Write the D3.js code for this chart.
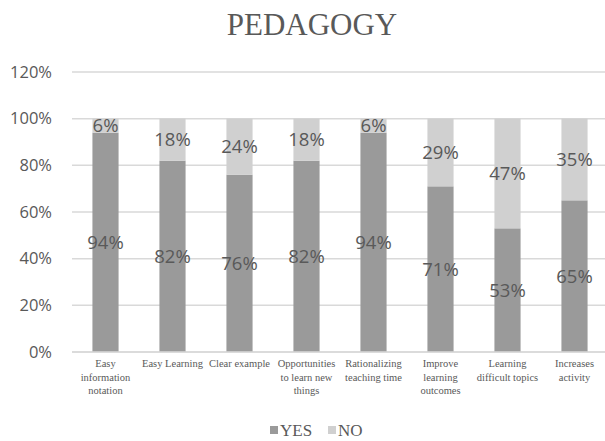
<!doctype html>
<html>
<head>
<meta charset="utf-8">
<script src="https://d3js.org/d3.v7.min.js"></script>
<style>
  body { margin: 0; background: #fff; }
</style>
</head>
<body>
<div id="chart"></div>
<script>
  var categories = ["Easy information notation", "Easy Learning", "Clear example",
    "Opportunities to learn new things", "Rationalizing teaching time",
    "Improve learning outcomes", "Learning difficult topics", "Increases activity"];
  var labelLines = [["Easy", "information", "notation"], ["Easy Learning"], ["Clear example"],
    ["Opportunities", "to learn new", "things"], ["Rationalizing", "teaching time"],
    ["Improve", "learning", "outcomes"], ["Learning", "difficult topics"], ["Increases", "activity"]];
  var yes = [94, 82, 76, 82, 94, 71, 53, 65];
  var no = [6, 18, 24, 18, 6, 29, 47, 35];
  var yTicks = [0, 20, 40, 60, 80, 100, 120];
  var seriesNames = ["YES", "NO"];
  var colors = ["#9a9a9a", "#d0d0d0"];

  var W = 605, H = 441;
  var margin = {top: 72, right: -3, bottom: 89, left: 72};
  var width = W - margin.left - margin.right,
      height = H - margin.top - margin.bottom;

  var svg = d3.select("#chart").append("svg")
      .attr("width", W)
      .attr("height", H);

  svg.append("text")
    .attr("x", 312).attr("y", 35)
    .attr("text-anchor", "middle")
    .style("font-family", "'Liberation Serif', 'Times New Roman', serif")
    .style("font-size", "31px")
    .attr("fill", "#595959")
    .text("PEDAGOGY");

  var g = svg.append("g")
      .attr("transform", "translate(" + margin.left + "," + margin.top + ")");

  var x = d3.scaleBand()
    .domain(categories)
    .range([0, width])
    .paddingInner(0.61)
    .paddingOuter(0.305);

  var y = d3.scaleLinear()
    .domain([0, 120])
    .range([height, 0]);

  // gridlines
  g.append("g")
    .selectAll("line")
    .data(yTicks)
    .enter().append("line")
      .attr("x1", 0).attr("x2", width)
      .attr("y1", function(d) { return y(d); })
      .attr("y2", function(d) { return y(d); })
      .attr("stroke", "#d9d9d9")
      .attr("stroke-width", 1.5);

  // y axis labels
  var yAxis = g.append("g")
    .call(d3.axisLeft(y).tickValues(yTicks).tickSize(0).tickPadding(20)
      .tickFormat(function(d) { return d + "%"; }));
  yAxis.select(".domain").remove();
  yAxis.selectAll("text")
    .style("font-family", "'Open Sans', sans-serif")
    .style("font-size", "16.5px")
    .attr("fill", "#595959");

  // stacked bars
  var rows = categories.map(function(c, i) { return {cat: c, YES: yes[i], NO: no[i]}; });
  var stack = d3.stack().keys(seriesNames)(rows);

  var layers = g.selectAll(".layer")
    .data(stack)
    .enter().append("g")
      .attr("fill", function(d, i) { return colors[i]; });

  layers.selectAll("rect")
    .data(function(d) { return d; })
    .enter().append("rect")
      .attr("x", function(d) { return x(d.data.cat); })
      .attr("y", function(d) { return y(d[1]); })
      .attr("width", x.bandwidth())
      .attr("height", function(d) { return y(d[0]) - y(d[1]); });

  layers.selectAll("text")
    .data(function(d) { return d; })
    .enter().append("text")
      .attr("x", function(d) { return x(d.data.cat) + x.bandwidth() / 2; })
      .attr("y", function(d) { return (y(d[0]) + y(d[1])) / 2; })
      .attr("dy", "0.36em")
      .attr("text-anchor", "middle")
      .style("font-family", "'Open Sans', sans-serif")
      .style("font-size", "18.5px")
      .attr("fill", "#595959")
      .text(function(d) { return (d[1] - d[0]) + "%"; });

  // x axis line
  g.append("line")
    .attr("x1", 0).attr("x2", width)
    .attr("y1", height).attr("y2", height)
    .attr("stroke", "#d9d9d9")
    .attr("stroke-width", 1.5);

  // category labels
  var xl = g.append("g").selectAll("text")
    .data(categories)
    .enter().append("text")
      .attr("x", function(d) { return x(d) + x.bandwidth() / 2; })
      .attr("y", height + 15)
      .attr("text-anchor", "middle")
      .style("font-family", "'Liberation Serif', 'Times New Roman', serif")
      .style("font-size", "10.5px")
      .attr("fill", "#595959");
  xl.selectAll("tspan")
    .data(function(d, i) { return labelLines[i]; })
    .enter().append("tspan")
      .attr("x", function() { return d3.select(this.parentNode).attr("x"); })
      .attr("dy", function(d, i) { return i === 0 ? 0 : 13.5; })
      .text(function(d) { return d; });

  // legend
  var legendX = [270, 328];
  var legend = svg.selectAll(".legend")
    .data(seriesNames)
    .enter().append("g")
      .attr("transform", function(d, i) { return "translate(" + legendX[i] + ",425)"; });
  legend.append("rect")
    .attr("width", 8).attr("height", 8)
    .attr("y", 1)
    .attr("fill", function(d, i) { return colors[i]; });
  legend.append("text")
    .attr("x", 10).attr("y", 11)
    .style("font-family", "'Liberation Serif', 'Times New Roman', serif")
    .style("font-size", "17px")
    .attr("fill", "#595959")
    .text(function(d) { return d; });
</script>
</body>
</html>
